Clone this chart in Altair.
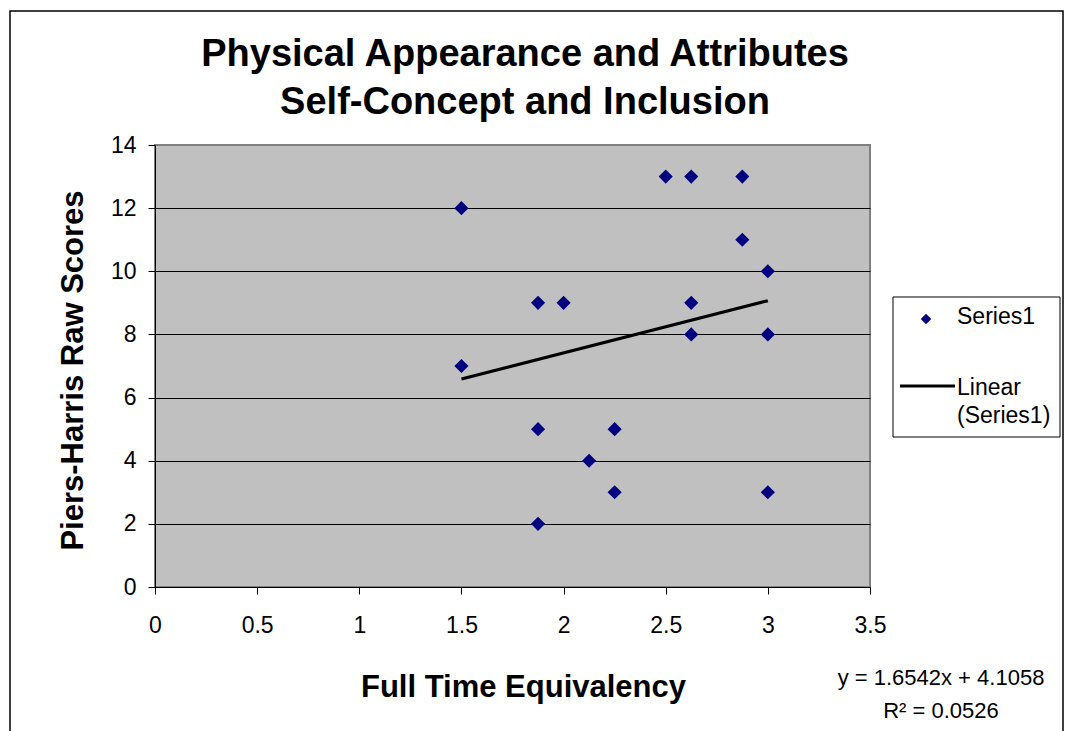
import altair as alt
import pandas as pd

# ---- data ----
fte = [1.5, 1.5, 1.875, 2.0, 1.875, 1.875, 2.125, 2.25, 2.25,
       2.5, 2.625, 2.875, 2.875, 3.0, 2.625, 2.625, 3.0, 3.0]
scores = [12, 7, 9, 9, 5, 2, 4, 5, 3,
          13, 13, 13, 11, 10, 9, 8, 8, 3]
x_ticks = [0, 0.5, 1, 1.5, 2, 2.5, 3, 3.5]
y_ticks = [0, 2, 4, 6, 8, 10, 12, 14]
title_lines = ["Physical Appearance and Attributes", "Self-Concept and Inclusion"]
x_title = "Full Time Equivalency"
y_title = "Piers-Harris Raw Scores"
series_name = "Series1"
trend_name = ["Linear", "(Series1)"]
equation = "y = 1.6542x + 4.1058"
r_squared = "R\u00b2 = 0.0526"

W, H = 715, 442
PAD_L, PAD_T = 155, 145
FONT = "Liberation Sans"
NAVY = "#000080"

df = pd.DataFrame({"x": fte, "y": scores})
one = pd.DataFrame({"k": [0]})

xscale = alt.Scale(domain=[0, 3.5], nice=False, zero=False)
yscale = alt.Scale(domain=[0, 14], nice=False)

x_axis = alt.Axis(
    values=x_ticks, format="~g", grid=False, labelFlush=False,
    domainColor="black", domainWidth=1, tickColor="black", tickSize=7,
    labelFont=FONT, labelFontSize=23, labelColor="black",
    labelBaseline="alphabetic", labelPadding=38,
    title=x_title, titleFont=FONT, titleFontSize=31, titleFontWeight="bold",
    titleColor="black", titleX=523 - PAD_L, titleY=687 - (PAD_T + H),
    titleBaseline="middle", titleAlign="center",
)
y_axis = alt.Axis(
    values=y_ticks, format="~g", grid=True, labelFlush=False,
    gridColor={"condition": {"test": "datum.value >= 14", "value": "#808080"}, "value": "black"},
    gridWidth=1,
    domainColor="black", domainWidth=1, tickColor="black", tickSize=7,
    labelFont=FONT, labelFontSize=23, labelColor="black", labelPadding=12,
    title=y_title, titleFont=FONT, titleFontSize=31, titleFontWeight="bold",
    titleColor="black", titleX=73 - PAD_L, titleY=370 - PAD_T,
    titleBaseline="middle", titleAlign="center", titleAngle=270,
)

frame = alt.Chart(one).mark_rect(fillOpacity=0, stroke="black", strokeWidth=1.5).encode(
    x=alt.value(10 - PAD_L), x2=alt.value(1063 - PAD_L),
    y=alt.value(11 - PAD_T), y2=alt.value(760 - PAD_T),
)

points = alt.Chart(df).mark_point(
    shape="diamond", filled=True, size=200, color=NAVY, opacity=1
).encode(
    x=alt.X("x:Q", scale=xscale, axis=x_axis),
    y=alt.Y("y:Q", scale=yscale, axis=y_axis),
)

trend = alt.Chart(df).transform_regression("x", "y").mark_line(
    color="black", strokeWidth=3.2
).encode(x=alt.X("x:Q", scale=xscale), y=alt.Y("y:Q", scale=yscale))

title = alt.Chart(one).mark_text(
    font=FONT, fontSize=38, fontWeight="bold", color="black",
    align="center", baseline="alphabetic", lineHeight=48,
).encode(x=alt.value(525 - PAD_L), y=alt.value(66 - PAD_T), text=alt.value(title_lines))

legend_box = alt.Chart(one).mark_rect(fill="white", stroke="black", strokeWidth=1).encode(
    x=alt.value(893 - PAD_L), x2=alt.value(1060 - PAD_L),
    y=alt.value(297 - PAD_T), y2=alt.value(437 - PAD_T),
)
legend_sym = alt.Chart(one).mark_point(shape="diamond", filled=True, size=110, color=NAVY, opacity=1).encode(
    x=alt.value(926 - PAD_L), y=alt.value(319 - PAD_T)
)
legend_line = alt.Chart(one).mark_rule(color="black", strokeWidth=3).encode(
    x=alt.value(900 - PAD_L), x2=alt.value(955 - PAD_L), y=alt.value(386 - PAD_T)
)
legend_t1 = alt.Chart(one).mark_text(
    font=FONT, fontSize=23, color="black", align="left", baseline="alphabetic"
).encode(x=alt.value(957 - PAD_L), y=alt.value(324 - PAD_T), text=alt.value(series_name))
legend_t2 = alt.Chart(one).mark_text(
    font=FONT, fontSize=23, color="black", align="left", baseline="alphabetic", lineHeight=28
).encode(x=alt.value(957 - PAD_L), y=alt.value(395 - PAD_T), text=alt.value(trend_name))

eq = alt.Chart(one).mark_text(
    font=FONT, fontSize=22, color="black", align="center", baseline="alphabetic", lineHeight=33
).encode(x=alt.value(941 - PAD_L), y=alt.value(685 - PAD_T), text=alt.value([equation, r_squared]))

chart = alt.layer(
    frame, points, trend, title, legend_box, legend_sym, legend_line, legend_t1, legend_t2, eq
).properties(
    width=W, height=H, autosize="none",
    padding={"left": PAD_L, "top": PAD_T, "right": 1066 - PAD_L - W, "bottom": 731 - PAD_T - H},
    background="white",
).configure_view(fill="#C0C0C0", stroke="#808080", strokeWidth=2)

chart.save("out.html", embed_options={"renderer": "svg", "actions": False})
